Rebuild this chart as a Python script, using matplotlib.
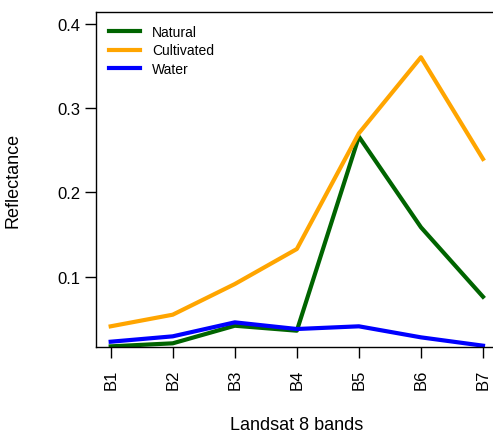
import matplotlib
matplotlib.use("Agg")
import matplotlib.pyplot as plt

plt.rcParams['font.family'] = ['Liberation Sans', 'DejaVu Sans']

bands = ["B1", "B2", "B3", "B4", "B5", "B6", "B7"]
natural = [0.0173, 0.0209, 0.0418, 0.0359, 0.2663, 0.1587, 0.0762]
cultivated = [0.0411, 0.0549, 0.0913, 0.1329, 0.2703, 0.3606, 0.2398]
water = [0.0228, 0.0292, 0.0458, 0.0379, 0.0411, 0.0280, 0.0181]
yticks = [0.1, 0.2, 0.3, 0.4]

fig = plt.figure(figsize=(4.93, 4.35), dpi=100)
ax = fig.add_axes([0.1943, 0.2007, 0.8156, 0.7694])

x = range(1, len(bands) + 1)
ax.plot(x, natural, color="#006400", lw=3, label="Natural")
ax.plot(x, cultivated, color="#FFA500", lw=3, label="Cultivated")
ax.plot(x, water, color="#0000FF", lw=3, label="Water")

ax.set_xlim(0.76, 7.24)
ax.set_ylim(0.0169, 0.4143)
ax.set_xticks(list(x))
ax.set_xticklabels(bands, rotation=90, fontsize=12)
ax.set_yticks(yticks)
ax.set_yticklabels([str(v) for v in yticks], fontsize=12)
ax.tick_params(length=8, width=1)
ax.tick_params(axis="x", pad=8)
ax.tick_params(axis="y", pad=3)
for s in ax.spines.values():
    s.set_linewidth(1)

ax.set_xlabel("Landsat 8 bands", fontsize=13)
ax.set_ylabel("Reflectance", fontsize=13)
ax.xaxis.set_label_coords(0.5, -0.208)
ax.yaxis.set_label_coords(-0.185, 0.5)

ax.legend(loc="upper left", frameon=False, fontsize=10, handlelength=2.2,
          labelspacing=0.3, borderaxespad=0.55, handletextpad=0.9)

fig.savefig("out.png", dpi=100)
